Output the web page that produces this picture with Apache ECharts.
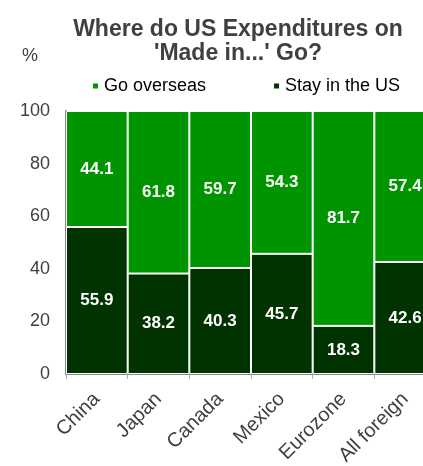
<!DOCTYPE html>
<html><head><meta charset="utf-8">
<script src="https://cdn.jsdelivr.net/npm/echarts@6/dist/echarts.min.js"></script>
<style>html,body{margin:0;padding:0;background:#fff}#c{width:423px;height:466px}</style>
</head><body><div id="c"></div>
<script>
var categories = ['China','Japan','Canada','Mexico','Eurozone','All foreign'];
var stayInUS = [55.9, 38.2, 40.3, 45.7, 18.3, 42.6];
var goOverseas = [44.1, 61.8, 59.7, 54.3, 81.7, 57.4];
var yTicks = [0, 20, 40, 60, 80, 100];

var FF = 'Liberation Sans, Arial';
var chart = echarts.init(document.getElementById('c'));
var lbl = {show:true, position:'inside', color:'#fff', fontWeight:'bold', fontSize:17, fontFamily:FF, formatter:function(p){return p.value.toFixed(1);}};
chart.setOption({
  animation:false,
  textStyle:{fontFamily:FF},
  title:{text:"Where do US Expenditures on\n'Made in...' Go?", left:233, top:13, textAlign:'center',
    textStyle:{fontSize:23, fontWeight:'bold', color:'#404040', lineHeight:24, fontFamily:FF}},
  graphic:[{type:'text', left:22, top:47, style:{text:'%', fontSize:18, fill:'#404040', fontFamily:FF}}],
  legend:{top:72, left:86, itemGap:66, itemWidth:7, itemHeight:7, icon:'rect',
    textStyle:{fontSize:18, color:'#000', fontFamily:FF},
    data:['Go overseas','Stay in the US']},
  grid:{left:66, right:-13, top:111, bottom:92, outerBoundsMode:'none'},
  xAxis:{type:'category', data:categories,
    axisLine:{lineStyle:{color:'#888', width:2}}, axisTick:{show:true, length:5, lineStyle:{color:'#aaa'}},
    axisLabel:{rotate:45, fontSize:20, color:'#404040', margin:22, interval:0}},
  yAxis:{type:'value', min:0, max:100, interval:20,
    axisLine:{show:true, lineStyle:{color:'#888', width:2}}, axisTick:{show:true, inside:true, length:5, lineStyle:{color:'#888'}},
    splitLine:{show:false},
    axisLabel:{fontSize:18, color:'#404040', margin:16, formatter:function(v){return yTicks.indexOf(v)>=0?String(v):'';}}},
  series:[
    {name:'Stay in the US', type:'bar', stack:'a', data:stayInUS, barCategoryGap:'0%',
      itemStyle:{color:'#003300', borderColor:'#fff', borderWidth:1}, label:lbl},
    {name:'Go overseas', type:'bar', stack:'a', data:goOverseas, barCategoryGap:'0%',
      itemStyle:{color:'#009400', borderColor:'#fff', borderWidth:1}, label:lbl}
  ]
});
</script></body></html>
